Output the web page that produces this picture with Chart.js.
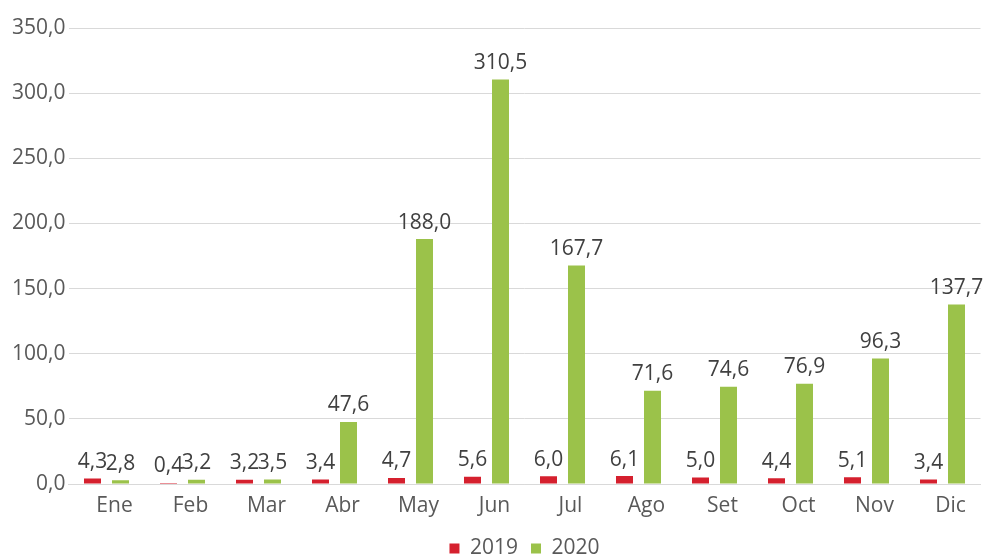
<!DOCTYPE html>
<html>
<head>
<meta charset="utf-8">
<script src="https://cdn.jsdelivr.net/npm/chart.js@4.4.1/dist/chart.umd.min.js"></script>
<style>
  html, body { margin: 0; padding: 0; background: #fff; }
  #wrap { width: 983px; height: 559px; }
</style>
</head>
<body>
<div id="wrap"><canvas id="chart" width="983" height="559"></canvas></div>
<script>
// ── Data ───────────────────────────────────────────────────────────────
const months   = ['Ene', 'Feb', 'Mar', 'Abr', 'May', 'Jun', 'Jul', 'Ago', 'Set', 'Oct', 'Nov', 'Dic'];
const vals2019 = [4.3, 0.4, 3.2, 3.4, 4.7, 5.6, 6.0, 6.1, 5.0, 4.4, 5.1, 3.4];
const vals2020 = [2.8, 3.2, 3.5, 47.6, 188.0, 310.5, 167.7, 71.6, 74.6, 76.9, 96.3, 137.7];
const yTicks   = [0, 50, 100, 150, 200, 250, 300, 350];

const RED   = '#d5202e';
const GREEN = '#9bc24a';
const TEXT  = '#595959';
const FONT  = "'Open Sans', 'DejaVu Sans', sans-serif";

// "310.5" -> "310,5"
const fmt = v => v.toFixed(1).replace('.', ',');

// Value labels drawn above each bar
const valueLabels = {
  id: 'valueLabels',
  afterDatasetsDraw(chart) {
    const ctx = chart.ctx;
    ctx.save();
    ctx.font = `21px ${FONT}`;
    ctx.fillStyle = '#404040';
    ctx.textAlign = 'center';
    ctx.textBaseline = 'bottom';
    chart.data.datasets.forEach((ds, i) => {
      chart.getDatasetMeta(i).data.forEach((bar, j) => {
        ctx.fillText(fmt(ds.data[j]), bar.x, bar.y - 6);
      });
    });
    ctx.restore();
  }
};

new Chart(document.getElementById('chart'), {
  type: 'bar',
  data: {
    labels: months,
    datasets: [
      { label: '2019', data: vals2019, backgroundColor: RED,   borderWidth: 0, minBarLength: 1 },
      { label: '2020', data: vals2020, backgroundColor: GREEN, borderWidth: 0 }
    ]
  },
  options: {
    responsive: false,
    animation: false,
    categoryPercentage: 0.737,
    barPercentage: 0.607,
    layout: { padding: { top: 28, right: 2.5, left: 0, bottom: -10 } },
    scales: {
      x: {
        grid: { display: false, drawTicks: false },
        border: { display: true, color: '#d9d9d9', width: 1 },
        ticks: { color: TEXT, font: { size: 21, family: FONT }, padding: 9, labelOffset: 8 },
        afterFit: s => { s.height = 41; }
      },
      y: {
        min: 0,
        max: 350,
        afterBuildTicks: s => { s.ticks = yTicks.map(v => ({ value: v })); },
        grid: { color: '#d9d9d9', drawTicks: false },
        border: { display: false },
        ticks: { color: TEXT, font: { size: 21, family: FONT }, padding: 3, callback: v => fmt(v) },
        afterFit: s => { s.width = 68.5; }
      }
    },
    plugins: {
      legend: {
        position: 'bottom',
        fullSize: false,
        labels: {
          color: TEXT,
          font: { size: 21, family: FONT },
          boxWidth: 10,
          boxHeight: 10,
          padding: 13
        }
      },
      tooltip: { enabled: false }
    }
  },
  plugins: [valueLabels]
});
</script>
</body>
</html>
